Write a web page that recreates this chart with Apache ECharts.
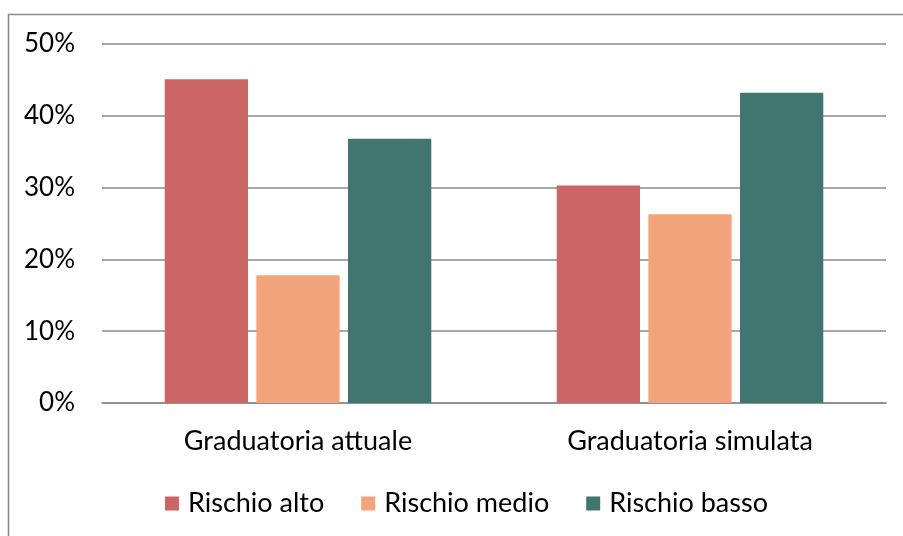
<!DOCTYPE html>
<html>
<head>
<meta charset="utf-8">
<style>
  html, body { margin: 0; padding: 0; background: #ffffff; }
  #chart { width: 903px; height: 536px; }
</style>
<script src="https://cdn.jsdelivr.net/npm/echarts@6/dist/echarts.min.js"></script>
</head>
<body>
<div id="chart"></div>
<script>
// Categories and series (shares, in %)
const categories = ['Graduatoria attuale', 'Graduatoria simulata'];
const seriesNames = ['Rischio alto', 'Rischio medio', 'Rischio basso'];
const rischioAlto = [45.1, 30.3];
const rischioMedio = [17.8, 26.3];
const rischioBasso = [36.8, 43.2];
const yTicks = [0, 10, 20, 30, 40, 50];

const colors = ['#CC6666', '#F4A47B', '#41756F'];
const font = 'Lato, "Open Sans", sans-serif';

const chart = echarts.init(document.getElementById('chart'), null, { renderer: 'canvas' });

const seriesData = [rischioAlto, rischioMedio, rischioBasso];

chart.setOption({
  animation: false,
  backgroundColor: '#ffffff',
  color: colors,
  graphic: [{
    type: 'rect',
    shape: { x: 8.5, y: 14.5, width: 1200, height: 1200 },
    style: { fill: 'none', stroke: '#8a8a8a', lineWidth: 1.5 },
    silent: true
  }],
  grid: { left: 102, right: 17, top: 44, bottom: 133, containLabel: false },
  legend: {
    data: seriesNames,
    left: 160,
    top: 485,
    icon: 'rect',
    itemWidth: 14,
    itemHeight: 14,
    itemGap: 37,
    textStyle: { fontFamily: font, fontSize: 27, color: '#000', padding: [0, 0, 0, 4] }
  },
  xAxis: {
    type: 'category',
    data: categories,
    axisLine: { show: true, lineStyle: { color: '#8a8a8a', width: 1.5 } },
    axisTick: { show: false },
    axisLabel: { fontFamily: font, fontSize: 27, color: '#000', margin: 25 }
  },
  yAxis: {
    type: 'value',
    min: yTicks[0],
    max: yTicks[yTicks.length - 1],
    interval: 10,
    axisLine: { show: false },
    axisTick: { show: false },
    splitLine: { lineStyle: { color: '#8a8a8a', width: 1.5 } },
    axisLabel: {
      fontFamily: font, fontSize: 26, color: '#000', margin: 27,
      formatter: v => v + '%'
    }
  },
  series: seriesNames.map((name, i) => ({
    name: name,
    type: 'bar',
    data: seriesData[i],
    barGap: '10%',
    barCategoryGap: '32%',
    itemStyle: { color: colors[i] }
  }))
});
</script>
</body>
</html>
